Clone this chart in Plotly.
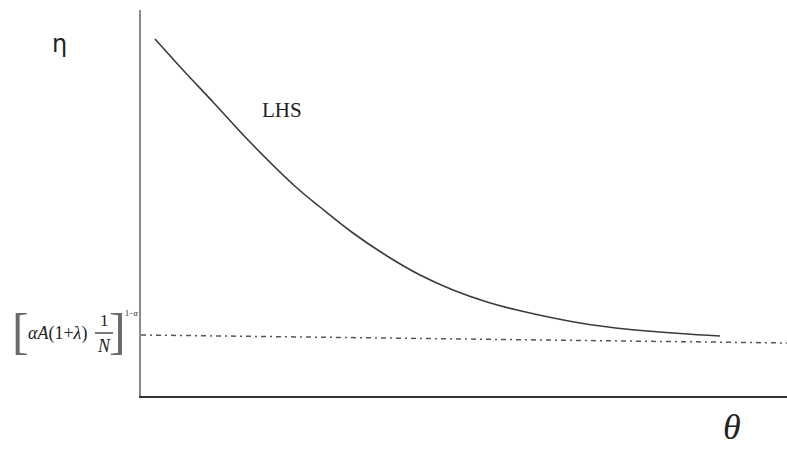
import plotly.graph_objects as go

# Curve (LHS) values (theta, eta) in plot units
theta = [14, 42, 72, 109, 156, 179, 212, 246, 279, 312, 346, 376, 439, 489, 539, 579]
eta = [357, 326, 294, 254, 208, 189, 163, 140, 121, 106, 94, 86, 73, 66.5, 62.5, 60]

# Horizontal dash-dot reference level
ref_theta = [0, 646]
ref_eta = [61, 53]

fig = go.Figure()
fig.add_trace(go.Scatter(x=theta, y=eta, mode="lines",
                         line=dict(color="#3a3a3a", width=1.6, shape="spline", smoothing=1.0),
                         hoverinfo="skip", showlegend=False))
fig.add_trace(go.Scatter(x=ref_theta, y=ref_eta, mode="lines",
                         line=dict(color="#555555", width=1.5, dash="5px,4px,2px,4px"),
                         hoverinfo="skip", showlegend=False))

W, H = 787, 459
L, R, T, B = 141, 0, 10, 63
pw, ph = W - L - R, H - T - B

def px(x):
    return (x - L) / pw

def py(y):
    return (H - B - y) / ph

serif = "Liberation Serif, Times New Roman, serif"
ann = []
def add(text, x, y, size, family=serif, color="#222222"):
    ann.append(dict(text=text, x=px(x), y=py(y), xref="paper", yref="paper",
                    xanchor="center", yanchor="middle", showarrow=False,
                    font=dict(size=size, family=family, color=color)))

add("η", 59, 44, 24, family="DejaVu Sans, sans-serif")
add("LHS", 282, 110, 21)
add("<i>θ</i>", 732, 427, 36)
add("[", 20, 331, 50, color="#6a6a6a")
add("<i>αA</i>(1+<i>λ</i>)", 57, 333, 18)
add("1", 104, 320, 17)
add("<i>N</i>", 104, 346, 18)
add("]", 117, 331, 50, color="#6a6a6a")
add("1−<i>α</i>", 132, 313, 8)

shapes = [dict(type="line", xref="paper", yref="paper",
               x0=px(95), x1=px(113), y0=py(333), y1=py(333),
               line=dict(color="#222222", width=1.2))]

fig.update_layout(
    width=W, height=H,
    margin=dict(l=L, r=R, t=T, b=B),
    paper_bgcolor="white", plot_bgcolor="white",
    annotations=ann, shapes=shapes,
    xaxis=dict(range=[0, pw], showgrid=False, zeroline=False, showticklabels=False,
               ticks="", showline=True, linecolor="#333333", linewidth=2, fixedrange=True),
    yaxis=dict(range=[0, ph], showgrid=False, zeroline=False, showticklabels=False,
               ticks="", showline=True, linecolor="#8a8a8a", linewidth=2, fixedrange=True),
)

fig.write_html("out.html", config={"displayModeBar": False},
               post_script="document.body.style.margin='0';document.body.style.overflow='hidden';")
